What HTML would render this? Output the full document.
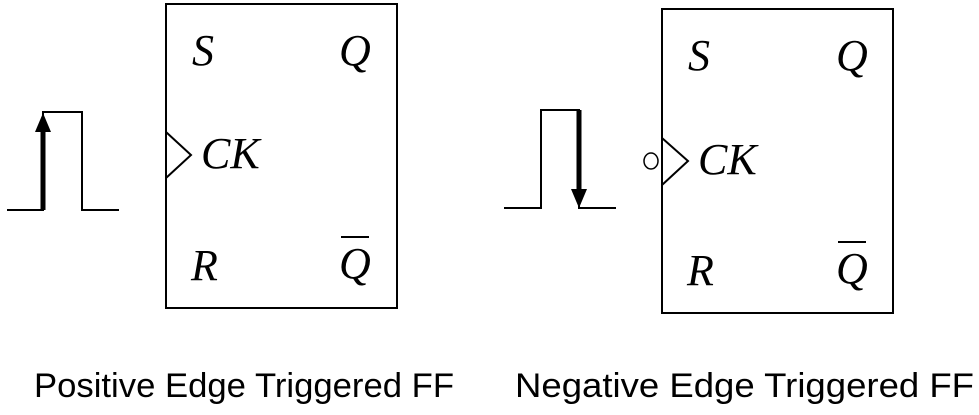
<!DOCTYPE html>
<html><head><meta charset="utf-8"><style>body{margin:0;background:#fff}svg{display:block}</style></head>
<body>
<svg width="979" height="415" viewBox="0 0 979 415" xmlns="http://www.w3.org/2000/svg">
<g fill="none" stroke="#000" stroke-width="2">
<rect x="166" y="4" width="231" height="304"/>
<polyline points="166,132 191,155 166,178"/>
<polyline points="7,210 43,210 43,112 82,112 82,210 119,210"/>
<rect x="662" y="9" width="231" height="304"/>
<polyline points="662,138 688,161 662,185"/>
<ellipse cx="651" cy="161" rx="7" ry="8" stroke-width="1.5"/>
<polyline points="504,208 541,208 541,110 579,110 579,208 616,208"/>
</g>
<line x1="43" y1="210" x2="43" y2="130" stroke="#000" stroke-width="5"/>
<polygon points="43,113 35,132 51,132" fill="#000"/>
<line x1="579" y1="110" x2="579" y2="192" stroke="#000" stroke-width="5"/>
<polygon points="579,208 571,189 587,189" fill="#000"/>
<g font-family="Liberation Serif, serif" font-style="italic" font-size="44" fill="#000">
<text x="192" y="65">S</text>
<text x="339" y="65">Q</text>
<text x="201" y="168">CK</text>
<text x="191" y="280">R</text>
<text x="339" y="278">Q</text>
<text x="688" y="70">S</text>
<text x="836" y="70">Q</text>
<text x="698" y="174">CK</text>
<text x="687" y="285">R</text>
<text x="836" y="283">Q</text>
</g>
<line x1="341" y1="237" x2="369" y2="237" stroke="#000" stroke-width="2"/>
<line x1="838" y1="242" x2="866" y2="242" stroke="#000" stroke-width="2"/>
<g font-family="Liberation Sans, sans-serif" font-size="34" fill="#000">
<text x="34" y="397" textLength="420" lengthAdjust="spacingAndGlyphs">Positive Edge Triggered FF</text>
<text x="515" y="397" textLength="459" lengthAdjust="spacingAndGlyphs">Negative Edge Triggered FF</text>
</g>
</svg>
</body></html>
